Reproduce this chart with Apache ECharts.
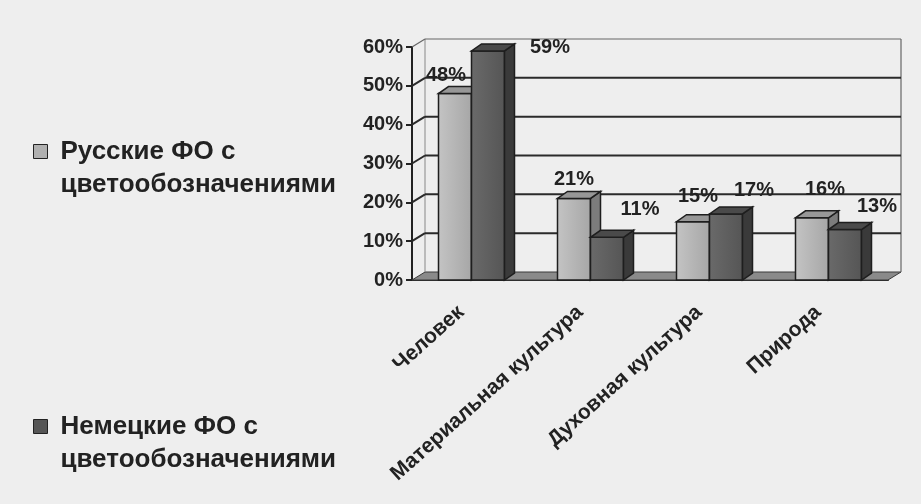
<!DOCTYPE html>
<html>
<head>
<meta charset="utf-8">
<script src="https://cdn.jsdelivr.net/npm/echarts@6/dist/echarts.min.js"></script>
<style>
html,body{margin:0;padding:0;background:#eeeeee;}
#chart{width:921px;height:504px;}
</style>
</head>
<body>
<div id="chart"></div>
<script>
// ---- data ----
const categories = ['Человек', 'Материальная культура', 'Духовная культура', 'Природа'];
const russianValues = [48, 21, 15, 16];
const germanValues = [59, 11, 17, 13];
const seriesNames = ['Русские ФО с цветообозначениями', 'Немецкие ФО с цветообозначениями'];
const yTicks = [0, 10, 20, 30, 40, 50, 60];

// ---- styling (not data) ----
const labelOffsets = [
  [[-14, -15], [-5, -15], [0, -22], [8, -25]],
  [[57, 0], [28, -24], [23, -20], [27, -20]]
];
const WALL_DX = 13, WALL_DY = -8;
const BAR_DX = 10, BAR_DY = -7;
const BAR_RATIO = 33 / 119;
const EDGE = '#1e1e1e';
const palettes = [
  { frontL: '#c4c4c4', frontR: '#a6a6a6', top: '#979797', side: '#7c7c7c', legend: '#b0b0b0' },
  { frontL: '#6a6a6a', frontR: '#555555', top: '#4a4a4a', side: '#3a3a3a', legend: '#565656' }
];
const FONT = '"Liberation Sans", Arial, sans-serif';

function wallRender(params, api) {
  const cs = params.coordSys;
  const x0 = cs.x, x1 = cs.x + cs.width;
  const y0 = api.coord([0, 0])[1];
  const yTop = api.coord([0, yTicks[yTicks.length - 1]])[1];
  const children = [];
  children.push({
    type: 'polygon',
    shape: { points: [[x0, y0], [x1, y0], [x1 + WALL_DX, y0 + WALL_DY], [x0 + WALL_DX, y0 + WALL_DY]] },
    style: { fill: '#8a8a8a', stroke: '#3a3a3a', lineWidth: 1 }
  });
  children.push({ type: 'line', shape: { x1: x1 + WALL_DX, y1: y0 + WALL_DY, x2: x1 + WALL_DX, y2: yTop + WALL_DY }, style: { stroke: '#666', lineWidth: 1.2 } });
  children.push({ type: 'line', shape: { x1: x0 + WALL_DX, y1: y0 + WALL_DY, x2: x0 + WALL_DX, y2: yTop + WALL_DY }, style: { stroke: '#888', lineWidth: 1 } });
  yTicks.forEach(function (v) {
    if (v === 0) return;
    const y = api.coord([0, v])[1];
    const isTop = v === yTicks[yTicks.length - 1];
    children.push({ type: 'line', shape: { x1: x0 + WALL_DX, y1: y + WALL_DY, x2: x1 + WALL_DX, y2: y + WALL_DY },
      style: { stroke: isTop ? '#666' : '#2a2a2a', lineWidth: isTop ? 1.2 : 2 } });
    children.push({ type: 'line', shape: { x1: x0, y1: y, x2: x0 + WALL_DX, y2: y + WALL_DY },
      style: { stroke: isTop ? '#666' : '#2a2a2a', lineWidth: isTop ? 1.2 : 2 } });
  });
  return { type: 'group', children: children };
}

function makeBarRender(sIdx) {
  const pal = palettes[sIdx];
  return function (params, api) {
    const idx = api.value(0);
    const v = api.value(1);
    const top = api.coord([idx, v]);
    const base = api.coord([idx, 0]);
    const band = api.size([1, 0])[0];
    const w = band * BAR_RATIO;
    const x = top[0] - w + sIdx * w;
    const y = top[1], y0 = base[1];
    const off = labelOffsets[sIdx][params.dataIndex];
    return {
      type: 'group',
      children: [
        { type: 'rect', shape: { x: x, y: y, width: w, height: y0 - y },
          style: { fill: new echarts.graphic.LinearGradient(0, 0, 1, 0, [{ offset: 0, color: pal.frontL }, { offset: 1, color: pal.frontR }]), stroke: EDGE, lineWidth: 1.5 } },
        { type: 'polygon', shape: { points: [[x + w, y], [x + w + BAR_DX, y + BAR_DY], [x + w + BAR_DX, y0 + BAR_DY], [x + w, y0]] }, style: { fill: pal.side, stroke: EDGE, lineWidth: 1.5 } },
        { type: 'polygon', shape: { points: [[x, y], [x + w, y], [x + w + BAR_DX, y + BAR_DY], [x + BAR_DX, y + BAR_DY]] }, style: { fill: pal.top, stroke: EDGE, lineWidth: 1.5 } },
        { type: 'text', x: x + w / 2 + BAR_DX / 2 + off[0], y: y + BAR_DY / 2 + off[1],
          style: { text: v + '%', fill: '#222', font: 'bold 20px ' + FONT, align: 'center', verticalAlign: 'middle' } }
      ]
    };
  };
}

const chart = echarts.init(document.getElementById('chart'), null, { renderer: 'canvas' });

function legendFor(i, top) {
  return {
    show: true,
    left: 33,
    top: top,
    padding: 0,
    orient: 'vertical',
    selectedMode: false,
    itemWidth: 14,
    itemHeight: 14,
    data: [{ name: seriesNames[i], icon: 'rect', itemStyle: { color: palettes[i].legend, borderColor: '#222', borderWidth: 1 } }],
    formatter: function (name) { return '\n' + name.replace(' с ', ' с\n'); },
    textStyle: { fontFamily: FONT, fontWeight: 'bold', fontSize: 26, color: '#222', lineHeight: 33, padding: [0, 0, 0, 8] }
  };
}

chart.setOption({
  backgroundColor: '#eeeeee',
  animation: false,
  legend: [legendFor(0, 102), legendFor(1, 377)],
  grid: { left: 412, right: 33, top: 47, bottom: 224 },
  xAxis: {
    type: 'category',
    data: categories,
    axisLine: { lineStyle: { color: '#222', width: 2 } },
    axisTick: { length: 6, lineStyle: { color: '#222', width: 2 } },
    axisLabel: { rotate: 42, margin: 20, padding: [0, 14, 0, 0], color: '#222', fontFamily: FONT, fontWeight: 'bold', fontSize: 21, interval: 0 },
    splitLine: { show: false }
  },
  yAxis: {
    type: 'value',
    min: 0, max: 60, interval: 10,
    axisLine: { show: true, lineStyle: { color: '#222', width: 2 } },
    axisTick: { show: true, length: 6, lineStyle: { color: '#222', width: 2 } },
    axisLabel: { formatter: '{value}%', margin: 9, color: '#222', fontFamily: FONT, fontWeight: 'bold', fontSize: 20 },
    splitLine: { show: false }
  },
  series: [
    { type: 'custom', name: 'wall', z: 1, silent: true, renderItem: wallRender, data: [[0, 0]], encode: { x: 0, y: 1 } },
    { type: 'custom', name: seriesNames[0], z: 2, renderItem: makeBarRender(0),
      itemStyle: { color: palettes[0].legend },
      data: russianValues.map(function (v, i) { return [i, v]; }), encode: { x: 0, y: 1 } },
    { type: 'custom', name: seriesNames[1], z: 3, renderItem: makeBarRender(1),
      itemStyle: { color: palettes[1].legend },
      data: germanValues.map(function (v, i) { return [i, v]; }), encode: { x: 0, y: 1 } }
  ]
});
</script>
</body>
</html>
